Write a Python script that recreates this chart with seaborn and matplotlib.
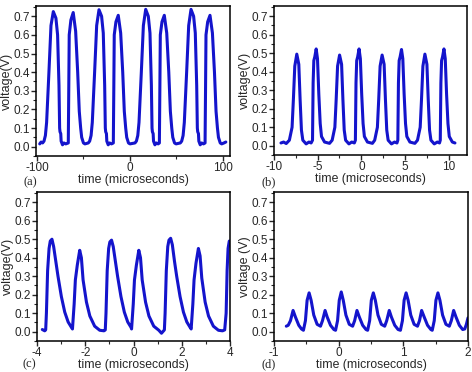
import matplotlib
matplotlib.use("Agg")
import matplotlib.pyplot as plt
import seaborn as sns
from matplotlib.ticker import MultipleLocator

# panel (a): time in microseconds, voltage in V
time_a = [-97.0, -95.5, -93.9, -92.4, -90.9, -89.6, -87.1, -84.9, -82.4, -79.6, -77.8, -76.3, -75.6, -75.2, -74.4, -74.0, -72.5, -71.0, -69.0,
          -66.3, -65.8, -65.3, -63.5, -61.0, -58.4, -56.2, -54.5, -53.0, -51.9, -50.0, -48.4,
          -44.8, -43.3, -41.8, -40.5, -38.0, -35.8, -33.3, -30.5, -28.7, -27.2, -26.5, -26.1, -25.3, -24.9, -23.4, -21.9, -19.9,
          -17.9, -17.4, -16.9, -15.1, -12.6, -10.0, -7.8, -6.1, -4.6, -3.5, -1.6, 0.0,
          5.4, 6.9, 8.4, 9.7, 12.2, 14.4, 16.9, 19.7, 21.5, 23.0, 23.7, 24.1, 24.9, 25.3, 26.8, 28.3, 30.3,
          31.6, 32.1, 32.6, 34.4, 36.9, 39.5, 41.7, 43.4, 44.9, 46.0, 47.9, 49.5,
          54.1, 55.6, 57.1, 58.4, 60.9, 63.1, 65.6, 68.4, 70.2, 71.7, 72.4, 72.8, 73.6, 74.0, 75.5, 77.0, 79.0,
          80.7, 81.2, 81.7, 83.5, 86.0, 88.6, 90.8, 92.5, 94.0, 95.1, 97.0, 98.6, 101.0, 103.0]
volt_a = [0.015, 0.025, 0.02, 0.03, 0.06, 0.13, 0.40, 0.65, 0.725, 0.69, 0.60, 0.33, 0.10, 0.08, 0.07, 0.03, 0.01, 0.02, 0.015,
          0.02, 0.30, 0.60, 0.68, 0.72, 0.62, 0.40, 0.19, 0.10, 0.05, 0.02, 0.015,
          0.02, 0.03, 0.06, 0.13, 0.40, 0.65, 0.735, 0.70, 0.61, 0.33, 0.10, 0.08, 0.07, 0.03, 0.01, 0.02, 0.015,
          0.02, 0.30, 0.60, 0.67, 0.705, 0.61, 0.40, 0.19, 0.10, 0.05, 0.02, 0.015,
          0.02, 0.03, 0.06, 0.13, 0.40, 0.65, 0.737, 0.70, 0.61, 0.33, 0.10, 0.08, 0.07, 0.03, 0.01, 0.02, 0.015,
          0.02, 0.30, 0.60, 0.67, 0.705, 0.61, 0.40, 0.19, 0.10, 0.05, 0.02, 0.015,
          0.02, 0.03, 0.06, 0.13, 0.40, 0.65, 0.737, 0.70, 0.61, 0.33, 0.10, 0.08, 0.07, 0.03, 0.01, 0.02, 0.015,
          0.02, 0.30, 0.60, 0.67, 0.705, 0.61, 0.40, 0.19, 0.10, 0.05, 0.02, 0.015, 0.02, 0.025]

# panel (b)
time_b = [-9.20, -8.90, -8.60, -8.24, -7.93, -7.78, -7.62, -7.39, -7.16, -7.01, -6.86, -6.70, -6.32, -6.00, -5.75,
          -5.59, -5.52, -5.44, -5.33, -5.17, -5.02, -4.87, -4.71, -4.56, -4.21, -3.64,
          -3.34, -3.03, -2.88, -2.72, -2.49, -2.26, -2.11, -1.96, -1.80, -1.42, -1.10, -0.80,
          -0.68, -0.61, -0.53, -0.42, -0.26, -0.11, 0.04, 0.20, 0.35, 0.70, 1.27,
          1.53, 1.84, 1.99, 2.15, 2.38, 2.61, 2.76, 2.91, 3.07, 3.45, 3.80, 4.08,
          4.18, 4.25, 4.33, 4.44, 4.60, 4.75, 4.90, 5.06, 5.21, 5.56, 6.13,
          6.43, 6.74, 6.89, 7.05, 7.28, 7.51, 7.66, 7.81, 7.97, 8.35, 8.70, 8.95,
          9.04, 9.11, 9.19, 9.30, 9.46, 9.61, 9.76, 9.92, 10.07, 10.42, 10.72]
volt_b = [0.015, 0.02, 0.012, 0.03, 0.10, 0.25, 0.43, 0.495, 0.44, 0.25, 0.085, 0.03, 0.01, 0.02, 0.015,
          0.03, 0.34, 0.46, 0.48, 0.523, 0.47, 0.28, 0.12, 0.05, 0.02, 0.013,
          0.03, 0.10, 0.25, 0.43, 0.49, 0.44, 0.25, 0.085, 0.03, 0.01, 0.02, 0.015,
          0.03, 0.34, 0.46, 0.48, 0.523, 0.47, 0.28, 0.12, 0.05, 0.02, 0.013,
          0.03, 0.10, 0.25, 0.43, 0.49, 0.44, 0.25, 0.085, 0.03, 0.01, 0.02, 0.015,
          0.03, 0.34, 0.46, 0.48, 0.52, 0.47, 0.28, 0.12, 0.05, 0.02, 0.013,
          0.03, 0.10, 0.25, 0.43, 0.495, 0.44, 0.25, 0.085, 0.03, 0.01, 0.02, 0.015,
          0.03, 0.34, 0.46, 0.48, 0.523, 0.47, 0.28, 0.12, 0.05, 0.02, 0.015]

# panel (c)
time_c = [-3.78, -3.68, -3.64, -3.61, -3.56, -3.50, -3.45, -3.38, -3.31, -3.22, -3.13, -2.99, -2.85, -2.71, -2.57,
          -2.53, -2.46, -2.41, -2.33, -2.23, -2.16, -2.09, -1.95, -1.81, -1.61, -1.40, -1.22,
          -1.17, -1.14, -1.09, -1.03, -0.98, -0.91, -0.84, -0.75, -0.66, -0.52, -0.38, -0.24, -0.10,
          -0.08, -0.01, 0.04, 0.12, 0.22, 0.29, 0.36, 0.50, 0.64, 0.84, 1.05, 1.16,
          1.28, 1.31, 1.36, 1.42, 1.47, 1.54, 1.61, 1.70, 1.79, 1.93, 2.07, 2.21, 2.35,
          2.39, 2.46, 2.51, 2.59, 2.69, 2.76, 2.83, 2.97, 3.11, 3.31, 3.52, 3.69, 3.78,
          3.84, 3.88, 3.92, 3.97, 4.02]
volt_c = [0.012, 0.005, 0.01, 0.10, 0.33, 0.45, 0.49, 0.50, 0.46, 0.38, 0.30, 0.19, 0.106, 0.053, 0.023,
          0.015, 0.15, 0.28, 0.36, 0.44, 0.40, 0.28, 0.16, 0.085, 0.03, 0.008, 0.005,
          0.01, 0.10, 0.33, 0.45, 0.485, 0.495, 0.46, 0.38, 0.30, 0.19, 0.106, 0.053, 0.023,
          0.015, 0.15, 0.28, 0.36, 0.44, 0.40, 0.28, 0.16, 0.085, 0.03, 0.008, -0.008,
          0.01, 0.10, 0.33, 0.46, 0.495, 0.505, 0.47, 0.38, 0.30, 0.19, 0.106, 0.053, 0.023,
          0.015, 0.15, 0.28, 0.37, 0.45, 0.41, 0.29, 0.16, 0.085, 0.03, 0.008, 0.005, 0.01,
          0.10, 0.33, 0.45, 0.49, 0.49]

# panel (d)
time_d = [-0.81, -0.78, -0.745, -0.705, -0.669, -0.617, -0.575,
          -0.545, -0.514, -0.488, -0.457, -0.426, -0.385, -0.333, -0.281, -0.250, -0.210, -0.178, -0.126, -0.074,
          -0.048, -0.017, 0.009, 0.040, 0.071, 0.112, 0.164, 0.216, 0.247, 0.283, 0.319, 0.371, 0.423,
          0.448, 0.479, 0.505, 0.536, 0.567, 0.608, 0.660, 0.712, 0.743, 0.782, 0.815, 0.867, 0.919,
          0.955, 0.986, 1.012, 1.043, 1.074, 1.115, 1.167, 1.219, 1.250, 1.283, 1.322, 1.374, 1.426,
          1.447, 1.478, 1.504, 1.535, 1.566, 1.607, 1.659, 1.711, 1.742, 1.778, 1.814, 1.866, 1.918,
          1.95, 1.975, 2.0]
volt_d = [0.03, 0.035, 0.06, 0.115, 0.08, 0.035, 0.015,
          0.008, 0.06, 0.17, 0.21, 0.17, 0.09, 0.04, 0.03, 0.06, 0.115, 0.08, 0.035, 0.012,
          0.008, 0.06, 0.17, 0.215, 0.17, 0.09, 0.04, 0.03, 0.06, 0.115, 0.08, 0.035, 0.012,
          0.008, 0.06, 0.17, 0.21, 0.17, 0.09, 0.04, 0.03, 0.06, 0.115, 0.08, 0.035, 0.012,
          0.008, 0.06, 0.17, 0.21, 0.17, 0.09, 0.04, 0.03, 0.06, 0.115, 0.08, 0.035, 0.012,
          0.008, 0.06, 0.17, 0.21, 0.17, 0.09, 0.04, 0.03, 0.06, 0.115, 0.08, 0.035, 0.012,
          0.015, 0.04, 0.075]

tags = ["(a)", "(b)", "(c)", "(d)"]
ylabels = ["voltage(V)", "voltage(V)", "voltage(V)", "voltage (V)"]

LINE_COLOR = "#1414cc"
W, H = 472, 372


def px_box(left, top, right, bottom):
    """pixel box -> figure fraction rect"""
    return [left / W, 1 - bottom / H, (right - left) / W, (bottom - top) / H]


def draw_panel(ax, time, volt, xlim, major, minor, ylabel):
    sns.lineplot(x=time, y=volt, ax=ax, color=LINE_COLOR, linewidth=2.2,
                 sort=False, estimator=None)
    ax.set_xlim(*xlim)
    ax.set_ylim(-0.05, 0.755)
    ax.xaxis.set_major_locator(MultipleLocator(major))
    ax.xaxis.set_minor_locator(MultipleLocator(minor))
    ax.yaxis.set_major_locator(MultipleLocator(0.1))
    ax.yaxis.set_minor_locator(MultipleLocator(0.05))
    ax.yaxis.set_major_formatter(plt.FormatStrFormatter("%.1f"))
    ax.tick_params(which="major", direction="out", length=3.5, width=1.0,
                   labelsize=8.5, pad=1, top=False, right=False)
    ax.tick_params(which="minor", direction="out", length=2, width=0.8,
                   top=False, right=False)
    for sp in ax.spines.values():
        sp.set_visible(True)
        sp.set_linewidth(1.1)
        sp.set_color("black")
    ax.set_xlabel("time (microseconds)", fontsize=8.8, labelpad=0)
    ax.set_ylabel(ylabel, fontsize=9, labelpad=0.5)


sns.set_style("ticks")
plt.rcParams["font.family"] = ["Liberation Sans", "DejaVu Sans"]
plt.rcParams["axes.unicode_minus"] = False

fig = plt.figure(figsize=(W / 100, H / 100), dpi=100)

ax_a = fig.add_axes(px_box(36, 6, 230, 156))
ax_b = fig.add_axes(px_box(274, 6, 467, 155))
ax_c = fig.add_axes(px_box(37, 192, 230, 341))
ax_d = fig.add_axes(px_box(274, 192, 468, 341))

draw_panel(ax_a, time_a, volt_a, (-101, 107.5), 100, 50, ylabels[0])
draw_panel(ax_b, time_b, volt_b, (-10, 12.1), 5, 2.5, ylabels[1])
draw_panel(ax_c, time_c, volt_c, (-4, 4), 2, 1, ylabels[2])
draw_panel(ax_d, time_d, volt_d, (-1, 2), 1, 0.5, ylabels[3])

tag_pos = [(30, 182), (269, 182), (29, 364), (269, 364)]
for tag, (tx, ty) in zip(tags, tag_pos):
    fig.text(tx / W, 1 - ty / H, tag, ha="center", va="center",
             fontsize=9, family=["Liberation Serif", "DejaVu Serif"])

fig.savefig("out.png", dpi=100)
